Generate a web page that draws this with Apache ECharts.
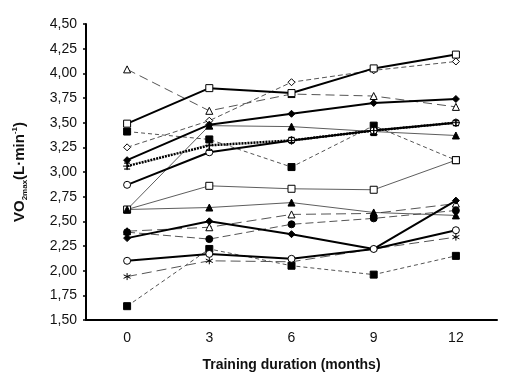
<!DOCTYPE html>
<html>
<head>
<meta charset="utf-8">
<script src="https://cdn.jsdelivr.net/npm/echarts@6/dist/echarts.min.js"></script>
<style>html,body{margin:0;padding:0;background:#fff;}#c{width:510px;height:382px;}</style>
</head>
<body>
<div id="c"></div>
<script>
// Categories (months)
const months = ['0', '3', '6', '9', '12'];
const yTicks = [1.5, 4.5, 0.25]; // min, max, step

// Individual subjects (VO2max, L/min)
const s1 = [3.49, 3.85, 3.80, 4.05, 4.19];   // open square, thick solid
const s2 = [4.04, 3.62, 3.79, 3.77, 3.66];   // open triangle, long dash
const s3 = [3.25, 3.52, 3.91, 4.03, 4.12];   // open diamond, dashed
const s4 = [3.12, 3.48, 3.59, 3.70, 3.74];   // filled diamond, thick solid
const s5 = [2.62, 3.47, 3.46, 3.41, 3.37];   // filled triangle, thin solid
const s6 = [2.87, 3.20, 3.32, 3.42, 3.50];   // open circle, thick solid
const s7 = [3.41, 3.33, 3.05, 3.47, 3.12];   // filled square, dashed
const s8 = [2.62, 2.86, 2.83, 2.82, 3.12];   // open square, thin solid
const s9 = [2.62, 2.64, 2.69, 2.59, 2.56];   // filled triangle, thin solid
const s10 = [2.40, 2.44, 2.57, 2.58, 2.68];  // open triangle, long dash
const s11 = [2.33, 2.50, 2.37, 2.22, 2.71];  // filled diamond, thick solid
const s12 = [2.39, 2.32, 2.47, 2.53, 2.61];  // filled circle, dashed
const s13 = [2.10, 2.17, 2.12, 2.22, 2.41];  // open circle, thick solid
const s14 = [1.94, 2.10, 2.09, 2.22, 2.34];  // asterisk, long dash
const s15 = [1.64, 2.22, 2.05, 1.96, 2.15];  // filled square, dashed
// Mean with error bars
const meanVals = [3.06, 3.27, 3.32, 3.42, 3.50];
const errLow = [3.03, 3.22, 3.30, 3.37, 3.47];
const errHigh = [3.09, 3.33, 3.35, 3.47, 3.52];

const ASTER = 'path://M0,-1L0,1M-0.87,-0.5L0.87,0.5M-0.87,0.5L0.87,-0.5';
const CROSS = 'path://M0,-1L0,1M-1,0L1,0';

function mk(data, sym, filled, width, dash, color, size) {
  return {
    type: 'line', data: data, symbol: sym, symbolSize: size || 7,
    showAllSymbol: true, animation: false,
    lineStyle: { color: color || '#000', width: width, type: dash || 'solid' },
    itemStyle: { color: filled ? '#000' : '#fff', borderColor: '#000', borderWidth: 1 },
    z: 3
  };
}

const series = [
  mk(s2, 'triangle', false, 1, [9, 5], '#555'),
  mk(s3, 'diamond', false, 1, [5, 3], '#555'),
  mk(s7, 'rect', true, 1, [4, 3], '#555'),
  mk(s10, 'triangle', false, 1, [10, 5], '#555'),
  mk(s12, 'circle', true, 1, [8, 4], '#555'),
  mk(s14, ASTER, false, 1, [10, 5], '#555'),
  mk(s15, 'rect', true, 1, [4, 3], '#555'),
  mk(s5, 'triangle', true, 0.8, 'solid', '#333'),
  mk(s8, 'rect', false, 0.8, 'solid', '#333'),
  mk(s9, 'triangle', true, 0.8, 'solid', '#333'),
  mk(s1, 'rect', false, 2, 'solid', '#000'),
  mk(s4, 'diamond', true, 2, 'solid', '#000'),
  mk(s6, 'circle', false, 2, 'solid', '#000'),
  mk(s11, 'diamond', true, 2, 'solid', '#000'),
  mk(s13, 'circle', false, 2, 'solid', '#000'),
  mk(meanVals, CROSS, false, 2.5, [2, 1], '#000', 8),
  {
    type: 'custom', animation: false, z: 4,
    data: months.map((m, i) => [i, errLow[i], errHigh[i]]),
    renderItem: function (params, api) {
      const lo = api.coord([api.value(0), api.value(1)]);
      const hi = api.coord([api.value(0), api.value(2)]);
      const w = 3;
      return {
        type: 'group', children: [
          { type: 'line', shape: { x1: lo[0], y1: lo[1], x2: hi[0], y2: hi[1] }, style: { stroke: '#000', lineWidth: 1.2 } },
          { type: 'line', shape: { x1: lo[0] - w, y1: lo[1], x2: lo[0] + w, y2: lo[1] }, style: { stroke: '#000', lineWidth: 1.2 } },
          { type: 'line', shape: { x1: hi[0] - w, y1: hi[1], x2: hi[0] + w, y2: hi[1] }, style: { stroke: '#000', lineWidth: 1.2 } }
        ]
      };
    }
  }
];

const chart = echarts.init(document.getElementById('c'), null, { renderer: 'canvas' });
chart.setOption({
  animation: false,
  backgroundColor: '#fff',
  grid: { left: 86, right: 13, top: 24, bottom: 62, containLabel: false },
  xAxis: {
    type: 'category', data: months, boundaryGap: true,
    axisLine: { lineStyle: { color: '#000', width: 2 } },
    axisTick: { alignWithLabel: true, length: 3, lineStyle: { color: '#000', width: 1.5 } },
    axisLabel: { color: '#111', fontSize: 14, margin: 11, fontFamily: 'Liberation Sans, Arial' },
    name: 'Training duration (months)', nameLocation: 'middle', nameGap: 38,
    nameTextStyle: { color: '#111', fontSize: 14, fontWeight: 'bold', fontFamily: 'Liberation Sans, Arial' }
  },
  yAxis: {
    type: 'value', min: yTicks[0], max: yTicks[1], interval: yTicks[2],
    axisLine: { show: true, lineStyle: { color: '#000', width: 2 } },
    axisTick: { show: true, length: 3, lineStyle: { color: '#000', width: 1.5 } },
    splitLine: { show: false },
    axisLabel: {
      color: '#111', fontSize: 14, margin: 9, fontFamily: 'Liberation Sans, Arial',
      formatter: v => v.toFixed(2).replace('.', ',')
    },
    name: '{b|VO}{s|2max}{b|(L·min}{p|-1}{b|)}',
    nameLocation: 'middle', nameRotate: 90, nameGap: 57,
    nameTextStyle: {
      rich: {
        b: { fontSize: 15, fontWeight: 'bold', color: '#111', fontFamily: 'Liberation Sans, Arial', lineHeight: 18, verticalAlign: 'middle' },
        s: { fontSize: 8, fontWeight: 'bold', color: '#111', fontFamily: 'Liberation Sans, Arial', lineHeight: 18, verticalAlign: 'bottom', padding: [8, 0, 0, 0] },
        p: { fontSize: 8, fontWeight: 'bold', color: '#111', fontFamily: 'Liberation Sans, Arial', lineHeight: 18, verticalAlign: 'top', padding: [0, 0, 8, 0] }
      }
    }
  },
  series: series
});
</script>
</body>
</html>
